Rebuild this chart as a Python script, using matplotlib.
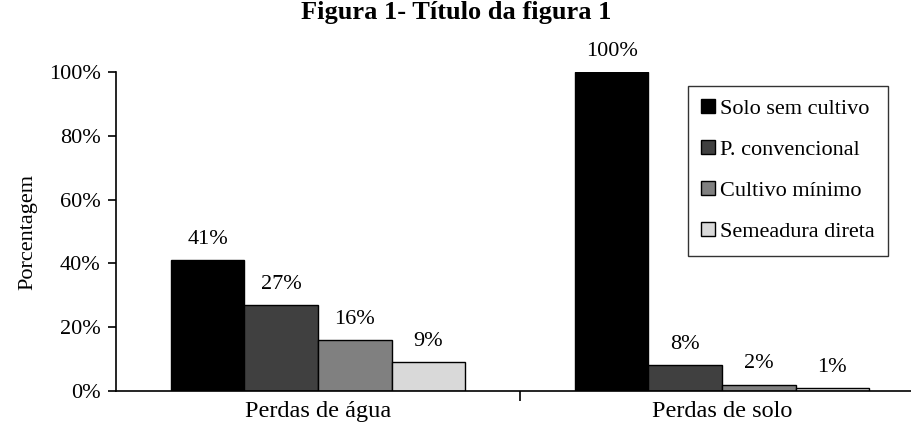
import numpy as np
import matplotlib.pyplot as plt

plt.rcParams['font.family'] = ['Liberation Serif', 'DejaVu Serif']

# dados
categorias = ['Perdas de água', 'Perdas de solo']
series = ['Solo sem cultivo', 'P. convencional', 'Cultivo mínimo', 'Semeadura direta']
valores = [
    [41, 100],
    [27, 8],
    [16, 2],
    [9, 1],
]
rotulos = [
    ['41%', '100%'],
    ['27%', '8%'],
    ['16%', '2%'],
    ['9%', '1%'],
]
cores = ['#000000', '#404040', '#808080', '#d9d9d9']

fig = plt.figure(figsize=(9.12, 4.29), dpi=100)
ax = fig.add_axes([116/912, 38/429, 808/912, 319/429])

x = np.arange(len(categorias))
w = 0.182
for i, (nome, vals) in enumerate(zip(series, valores)):
    pos = x + (i - 1.5) * w
    ax.bar(pos, vals, width=w, color=cores[i], edgecolor='black', linewidth=1.0, label=nome)
    for p, v, r in zip(pos, vals, rotulos[i]):
        ax.text(p, v + 3.5, r, ha='center', va='bottom', fontsize=16)

ax.set_xlim(-0.5, 1.5)
ax.set_ylim(0, 100)
ax.set_yticks([0, 20, 40, 60, 80, 100])
ax.set_yticklabels(['0%', '20%', '40%', '60%', '80%', '100%'], fontsize=16)
ax.tick_params(axis='y', direction='out', length=6, width=1.2, pad=5)

# ticks do eixo x: só o separador entre grupos
ax.set_xticks([0.5])
ax.set_xticklabels([''])
ax.tick_params(axis='x', direction='out', length=7, width=1.2)
for xi, c in zip(x, categorias):
    ax.text(xi, -6.3, c, ha='center', va='center', fontsize=17.5)

ax.spines['top'].set_visible(False)
ax.spines['right'].set_visible(False)
ax.spines['left'].set_linewidth(1.2)
ax.spines['bottom'].set_linewidth(1.2)

ax.set_ylabel('Porcentagem', fontsize=16, labelpad=8)

leg = ax.legend(loc='upper left', bbox_to_anchor=((688-116)/808, (391-86)/319), fontsize=16,
                frameon=True, fancybox=False, edgecolor='black', handlelength=0.6,
                handleheight=0.6, handletextpad=0.25, labelspacing=0.95, borderpad=0.6,
                borderaxespad=0)
leg.get_frame().set_linewidth(1.0)

fig.text(0.5, 1 - 13/429, 'Figura 1- Título da figura 1', ha='center', va='center',
         fontsize=19, fontweight='bold')

fig.savefig('out.png', dpi=100)
